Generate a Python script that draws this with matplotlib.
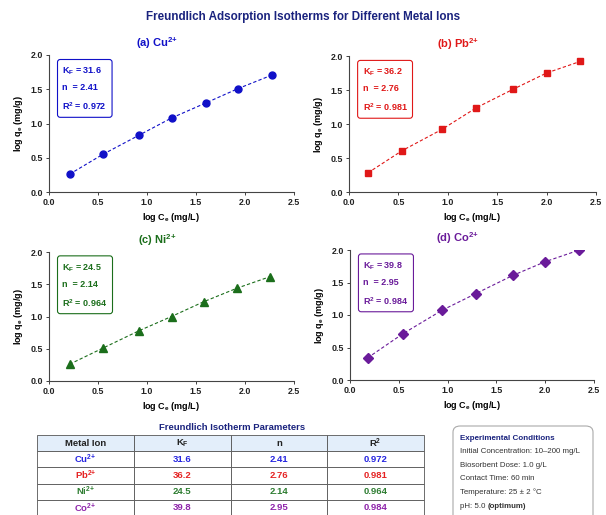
import matplotlib
matplotlib.use('Agg')
import matplotlib.pyplot as plt
from matplotlib.patches import FancyBboxPatch

plt.rcParams['font.family'] = ['Liberation Sans', 'DejaVu Sans']
plt.rcParams['mathtext.fontset'] = 'custom'
plt.rcParams['mathtext.rm'] = 'Liberation Sans'
plt.rcParams['mathtext.it'] = 'Liberation Sans:italic'
plt.rcParams['mathtext.bf'] = 'Liberation Sans:bold'

# data
ions = ['Cu', 'Pb', 'Ni', 'Co']
kf = [31.6, 36.2, 24.5, 39.8]
n_vals = [2.41, 2.76, 2.14, 2.95]
r2 = [0.972, 0.981, 0.964, 0.984]

cu_x = [0.21, 0.55, 0.92, 1.25, 1.60, 1.93, 2.28]
cu_y = [0.26, 0.55, 0.83, 1.08, 1.30, 1.51, 1.71]
pb_x = [0.19, 0.54, 0.94, 1.29, 1.66, 2.00, 2.34]
pb_y = [0.28, 0.61, 0.92, 1.24, 1.51, 1.75, 1.92]
ni_x = [0.21, 0.55, 0.92, 1.25, 1.58, 1.92, 2.26]
ni_y = [0.26, 0.51, 0.78, 1.00, 1.23, 1.44, 1.62]
co_x = [0.18, 0.54, 0.94, 1.29, 1.67, 2.00, 2.35]
co_y = [0.34, 0.71, 1.07, 1.33, 1.61, 1.82, 2.00]

xs = [cu_x, pb_x, ni_x, co_x]
ys = [cu_y, pb_y, ni_y, co_y]
colors = ['#1010c8', '#e01818', '#1b6e1b', '#6a1b9a']
text_colors = ['#2525e0', '#e52222', '#2e7d32', '#8e24aa']
markers = ['o', 's', '^', 'D']
msizes = [5, 5, 5.5, 5]
letters = ['a', 'b', 'c', 'd']
sup = r'$^{\mathbf{2{+}}}$'

W, H = 606, 515
fig = plt.figure(figsize=(W / 100, H / 100), dpi=100)

def px(l, t, r, b):
    return [l / W, 1 - b / H, (r - l) / W, (b - t) / H]

rects = [px(49, 55, 294, 192), px(349, 56, 596, 192),
         px(49, 252, 294, 381), px(350, 250, 594, 380)]

fig.text(0.5, 1 - 17 / H, 'Freundlich Adsorption Isotherms for Different Metal Ions',
         ha='center', va='center', fontsize=8.4, fontweight='bold', color='#1a237e')

for i in range(4):
    ax = fig.add_axes(rects[i])
    ax.plot(xs[i], ys[i], linestyle='--', color=colors[i], linewidth=0.8,
            marker=markers[i], markersize=msizes[i], markerfacecolor=colors[i],
            markeredgecolor=colors[i], dashes=(3, 2))
    ax.set_xlim(0, 2.5)
    ax.set_ylim(0, 2.0)
    ax.set_xticks([0.0, 0.5, 1.0, 1.5, 2.0, 2.5])
    ax.set_yticks([0.0, 0.5, 1.0, 1.5, 2.0])
    ax.set_xticklabels(['%.1f' % v for v in ax.get_xticks()])
    ax.set_yticklabels(['%.1f' % v for v in ax.get_yticks()])
    for s in ['top', 'right']:
        ax.spines[s].set_visible(False)
    for s in ['left', 'bottom']:
        ax.spines[s].set_color('#444444')
        ax.spines[s].set_linewidth(0.8)
    ax.tick_params(labelsize=6.4, length=2.5, width=0.6, pad=2, colors='#222222')
    for lab in ax.get_xticklabels() + ax.get_yticklabels():
        lab.set_fontweight('bold')
    ax.set_xlabel(r'log C$_{\mathbf{e}}$ (mg/L)', fontsize=6.5, fontweight='bold', labelpad=3)
    ax.set_ylabel(r'log q$_{\mathbf{e}}$ (mg/g)', fontsize=6.5, fontweight='bold', labelpad=4)
    ax.set_title('(%s) %s' % (letters[i], ions[i]) + sup, x=0.44,
                 fontsize=8, fontweight='bold', color=colors[i], pad=6)
    ax.text(0.055, 0.92,
            'K$_{\\mathbf{F}}$ = %.1f\nn  = %.2f\nR$^{\\mathbf{2}}$ = %.3f' % (kf[i], n_vals[i], r2[i]),
            transform=ax.transAxes, ha='left', va='top', fontsize=6.5, fontweight='bold',
            color=colors[i], linespacing=1.85,
            bbox=dict(boxstyle='round,pad=0.55,rounding_size=0.3', facecolor='white',
                      edgecolor=colors[i], linewidth=0.8))

# parameter table
fig.text(232 / W, 1 - 427 / H, 'Freundlich Isotherm Parameters', ha='center', va='center',
         fontsize=6.8, fontweight='bold', color='#1a237e')
tax = fig.add_axes(px(37, 435, 424, 516))
tax.axis('off')
cells = [['%s' % ions[i] + sup, '%.1f' % kf[i], '%.2f' % n_vals[i], '%.3f' % r2[i]]
         for i in range(4)]
tbl = tax.table(cellText=cells,
                colLabels=['Metal Ion', r'K$_{\mathbf{F}}$', 'n', r'R$^{\mathbf{2}}$'],
                cellLoc='center', bbox=[0, 0, 1, 1])
tbl.auto_set_font_size(False)
for (r, c), cell in tbl.get_celld().items():
    cell.set_edgecolor('#555555')
    cell.set_linewidth(0.6)
    cell.get_text().set_fontsize(6.8)
    cell.get_text().set_fontweight('bold')
    if r == 0:
        cell.set_facecolor('#e3eefa')
        cell.get_text().set_color('#222222')
    else:
        cell.get_text().set_color(text_colors[r - 1])

# experimental conditions box
box = FancyBboxPatch((453 / W, -0.05), 140 / W, (0.05 + 1 - 426 / H),
                     boxstyle='round,pad=0,rounding_size=0.012', transform=fig.transFigure,
                     facecolor='white', edgecolor='#aaaaaa', linewidth=0.8)
fig.patches.append(box)
fig.text(460 / W, 1 - 438 / H, 'Experimental Conditions', ha='left', va='center',
         fontsize=5.8, fontweight='bold', color='#1a237e')
cond_lines = ['Initial Concentration: 10\u2013200 mg/L', 'Biosorbent Dose: 1.0 g/L',
              'Contact Time: 60 min', 'Temperature: 25 \u00b1 2 \u00b0C']
for k, line in enumerate(cond_lines):
    fig.text(460 / W, 1 - (451.5 + 13.6 * k) / H, line, ha='left', va='center',
             fontsize=5.7, color='#333333')
ph = fig.text(460 / W, 1 - 506 / H, 'pH: 5.0 ', ha='left', va='center',
              fontsize=5.7, color='#333333')
fig.canvas.draw()
bb = ph.get_window_extent()
fig.text(bb.x1 / W, 1 - 506 / H, '(optimum)', ha='left', va='center',
         fontsize=5.7, fontweight='bold', color='#333333')

fig.savefig('out.png', dpi=100)
